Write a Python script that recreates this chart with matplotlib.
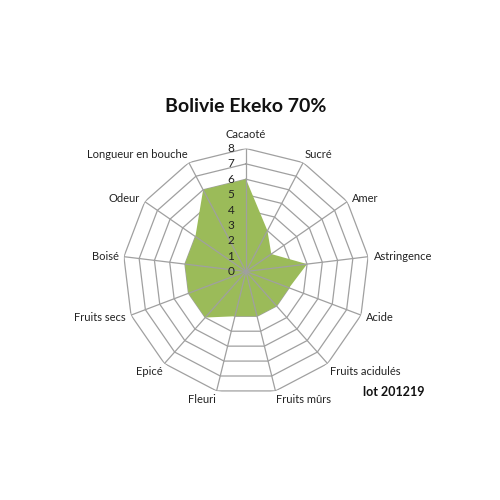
import matplotlib
matplotlib.use("Agg")
import matplotlib.pyplot as plt
import numpy as np

plt.rcParams['font.family'] = ['Lato', 'DejaVu Sans']

# data
categories = ['Cacaoté', 'Sucré', 'Amer', 'Astringence', 'Acide',
              'Fruits acidulés', 'Fruits mûrs', 'Fleuri', 'Epicé',
              'Fruits secs', 'Boisé', 'Odeur', 'Longueur en bouche']
scores = [6, 3, 2, 4, 3, 3, 3, 3, 4, 4, 4, 4, 6]
levels = [0, 1, 2, 3, 4, 5, 6, 7, 8]

n = len(categories)
angles = np.linspace(0, 2 * np.pi, n, endpoint=False)
rmax = levels[-1]

fig = plt.figure(figsize=(5, 5), dpi=100)
ax = fig.add_axes([0.246, 0.211, 0.492, 0.492], projection='polar')
ax.set_theta_zero_location('N')
ax.set_theta_direction(-1)
ax.set_ylim(0, rmax)
ax.grid(False)
ax.spines['polar'].set_visible(False)
ax.set_xticks([])
ax.set_yticks([])
ax.patch.set_alpha(0)

grid_col = '#a0a0a0'
ang_closed = np.append(angles, angles[0])

# polygon rings
for lv in levels[1:]:
    ax.plot(ang_closed, [lv] * (n + 1), color=grid_col, lw=0.9, zorder=1)

# filled series
ax.fill(ang_closed, scores + scores[:1], color='#9bbb59', lw=0, zorder=2)

# spokes on top
for a in angles:
    ax.plot([a, a], [0, rmax], color=grid_col, lw=0.9, zorder=3)

# radial tick labels
for lv in levels:
    ax.annotate(str(lv), xy=(0, lv), xytext=(-8.5, 0), textcoords='offset points',
                ha='right', va='center', fontsize=8.5, color='#222222', zorder=4)

# category labels
for i, (a, lab) in enumerate(zip(angles, categories)):
    s, c = np.sin(a), np.cos(a)
    ha = 'left' if s > 0.1 else ('right' if s < -0.1 else 'center')
    va = 'bottom' if c > 0.7 else ('top' if c < -0.7 else 'center')
    off = 2.5 if va != 'center' else 4
    if i == 0:
        off = 6  # keep clear of the "8" tick
    ax.annotate(lab, xy=(a, rmax), xytext=(off * s, off * c), textcoords='offset points',
                ha=ha, va=va, fontsize=8, color='#222222', annotation_clip=False)

fig.text(0.492, 0.788, 'Bolivie Ekeko 70%', ha='center', va='center',
         fontsize=14, fontweight='bold', color='#111111')
fig.text(0.787, 0.216, 'lot 201219', ha='center', va='center',
         fontsize=9, fontweight='bold', color='#111111')

fig.savefig('out.png', dpi=100, facecolor='white')
